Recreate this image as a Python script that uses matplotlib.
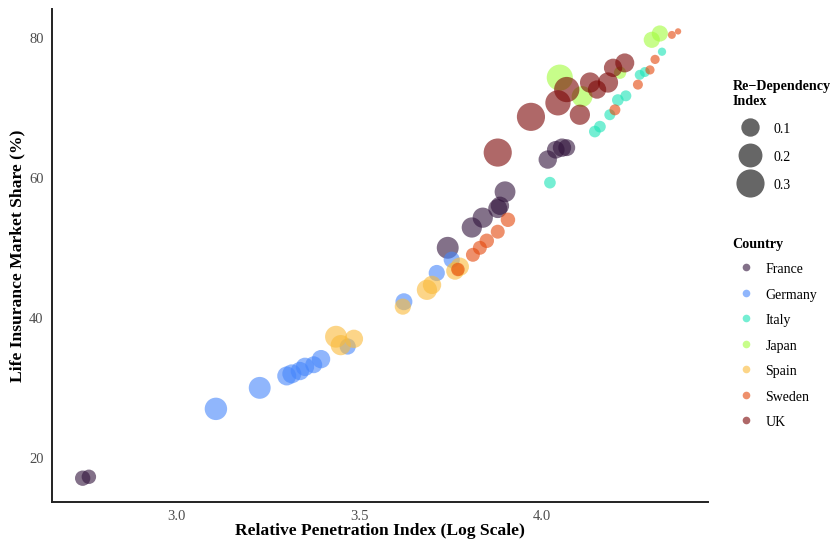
import numpy as np
import matplotlib
matplotlib.use("Agg")
import matplotlib.pyplot as plt
from matplotlib.lines import Line2D

plt.rcParams['font.family'] = ['Liberation Serif', 'DejaVu Serif']

## data (x = log penetration index, y = market share %, r = re-dependency)

countries = ["France", "Germany", "Italy", "Japan", "Spain", "Sweden", "UK"]
colors = ["#30123B", "#4686FB", "#1AE4B6", "#A2FC3C", "#FABA39", "#E4460A", "#7A0403"]

france_x = [2.742, 2.759, 3.742, 3.808, 3.838, 3.879, 3.885, 3.899, 4.016, 4.038, 4.055, 4.068]
france_y = [17.1, 17.3, 50.0, 52.9, 54.3, 55.6, 56.0, 58.0, 62.6, 64.0, 64.3, 64.3]
france_r = [0.06, 0.05, 0.16, 0.13, 0.13, 0.11, 0.10, 0.14, 0.10, 0.09, 0.10, 0.08]

germany_x = [3.107, 3.227, 3.301, 3.315, 3.337, 3.351, 3.375, 3.395, 3.468, 3.622, 3.712, 3.753]
germany_y = [27.0, 30.0, 31.7, 32.0, 32.4, 33.0, 33.3, 34.1, 35.9, 42.3, 46.4, 48.3]
germany_r = [0.17, 0.16, 0.11, 0.11, 0.10, 0.10, 0.08, 0.10, 0.07, 0.08, 0.07, 0.07]

italy_x = [4.022, 4.145, 4.159, 4.186, 4.208, 4.230, 4.268, 4.282, 4.329]
italy_y = [59.3, 66.6, 67.3, 69.0, 71.1, 71.7, 74.7, 75.1, 78.0]
italy_r = [0.025, 0.025, 0.025, 0.02, 0.025, 0.02, 0.014, 0.014, 0.006]

japan_x = [4.049, 4.110, 4.214, 4.301, 4.323]
japan_y = [74.3, 71.6, 75.0, 79.7, 80.6]
japan_r = [0.25, 0.14, 0.03, 0.07, 0.07]

spain_x = [3.436, 3.449, 3.485, 3.619, 3.685, 3.699, 3.762, 3.775]
spain_y = [37.3, 36.1, 37.0, 41.6, 44.0, 44.7, 46.7, 47.3]
spain_r = [0.16, 0.13, 0.10, 0.07, 0.13, 0.10, 0.09, 0.10]

sweden_x = [3.770, 3.811, 3.830, 3.849, 3.879, 3.907, 4.200, 4.263, 4.296, 4.310, 4.356, 4.373]
sweden_y = [46.9, 49.0, 50.0, 51.0, 52.3, 54.0, 69.7, 73.3, 75.4, 76.9, 80.4, 80.9]
sweden_r = [0.04, 0.045, 0.045, 0.05, 0.045, 0.05, 0.02, 0.014, 0.01, 0.01, 0.005, 0.001]

uk_x = [3.879, 3.970, 4.044, 4.068, 4.104, 4.132, 4.151, 4.181, 4.195, 4.227]
uk_y = [63.6, 68.7, 70.7, 72.6, 69.0, 73.6, 72.6, 73.6, 75.7, 76.4]
uk_r = [0.30, 0.30, 0.23, 0.23, 0.13, 0.13, 0.10, 0.13, 0.10, 0.11]

size_breaks = [0.1, 0.2, 0.3]

series = [
    (france_x, france_y, france_r),
    (germany_x, germany_y, germany_r),
    (italy_x, italy_y, italy_r),
    (japan_x, japan_y, japan_r),
    (spain_x, spain_y, spain_r),
    (sweden_x, sweden_y, sweden_r),
    (uk_x, uk_y, uk_r),
]


# ggplot-like area scale: diameter (px) grows with sqrt of value
def bubble(r, dpi=100):
    d_px = 5 + 25 * np.sqrt(np.clip(np.asarray(r, dtype=float), 0, None) / 0.35)
    return (d_px * 72 / dpi) ** 2


fig = plt.figure(figsize=(8.35, 5.45), dpi=100)
ax = fig.add_axes([52 / 835, 1 - 502 / 545, (708 - 52) / 835, (502 - 9) / 545])

for (xs, ys, rs), col in zip(series, colors):
    ax.scatter(xs, ys, s=bubble(rs), color=col, alpha=0.6, linewidths=0)

ax.set_xlim(2.658, 4.455)
ax.set_ylim(13.7, 84.1)
ax.set_xticks([3.0, 3.5, 4.0])
ax.set_yticks([20, 40, 60, 80])

for side in ["top", "right"]:
    ax.spines[side].set_visible(False)
for side in ["left", "bottom"]:
    ax.spines[side].set_linewidth(1.4)
    ax.spines[side].set_color("#222222")
ax.tick_params(length=0, pad=6, labelsize=10.5, labelcolor="#4D4D4D")

ax.set_xlabel("Relative Penetration Index (Log Scale)", fontsize=12.6, fontweight="bold", labelpad=0)
ax.set_ylabel("Life Insurance Market Share (%)", fontsize=12.6, fontweight="bold", labelpad=3)

## legends

size_handles = [Line2D([], [], ls="none", marker="o", markersize=np.sqrt(bubble(b)),
                       markerfacecolor="#333333", markeredgewidth=0, alpha=0.75)
                for b in size_breaks]
leg1 = fig.legend(size_handles, [str(b) for b in size_breaks], title="Re\u2212Dependency\nIndex",
                  loc="upper left", bbox_to_anchor=(727 / 835, 1 - 74 / 545), frameon=False,
                  fontsize=10, title_fontproperties={"weight": "bold", "size": 10.2},
                  labelspacing=0.98, handleheight=1.1, handlelength=2.45, handletextpad=0.5,
                  borderaxespad=0, alignment="left")

country_handles = [Line2D([], [], ls="none", marker="o", markersize=5.5,
                          markerfacecolor=c, markeredgewidth=0, alpha=0.6) for c in colors]
leg2 = fig.legend(country_handles, countries, title="Country",
                  loc="upper left", bbox_to_anchor=(727 / 835, 1 - 232 / 545), frameon=False,
                  fontsize=10, title_fontproperties={"weight": "bold", "size": 10.2},
                  labelspacing=0.8, handleheight=1.1, handlelength=2.0, handletextpad=0.37,
                  borderaxespad=0, alignment="left")

fig.savefig("out.png", dpi=100)
